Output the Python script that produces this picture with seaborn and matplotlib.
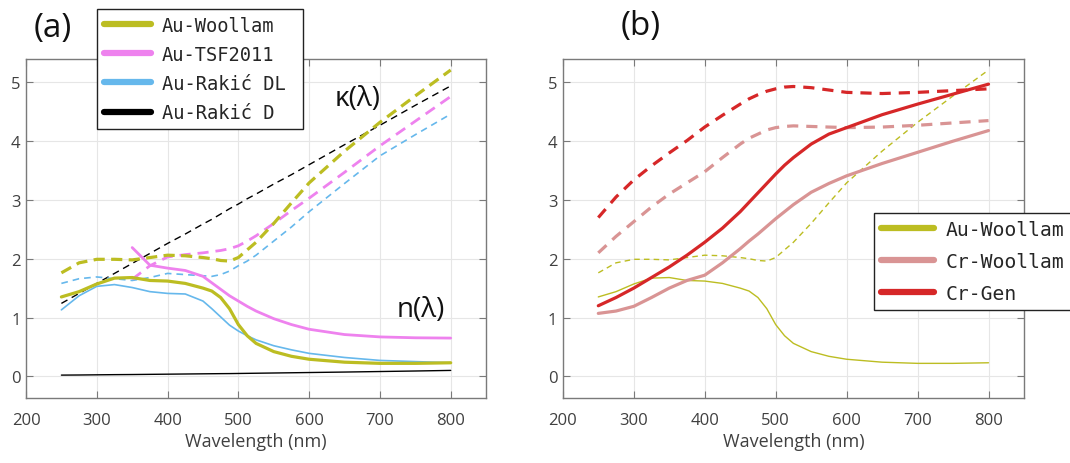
import seaborn as sns
import matplotlib.pyplot as plt
from matplotlib.lines import Line2D

# wavelength grid (nm)
wavelength = [250, 275, 300, 325, 350, 375, 400, 425, 450, 462.5, 475, 487.5, 500,
              512.5, 525, 550, 575, 600, 650, 700, 750, 800]
wavelength_tsf = wavelength[4:]

# Au-Woollam
au_woollam_n = [1.35, 1.44, 1.57, 1.67, 1.68, 1.63, 1.62, 1.58, 1.50, 1.45, 1.34, 1.15, 0.88,
                0.69, 0.56, 0.42, 0.34, 0.29, 0.24, 0.22, 0.22, 0.23]
au_woollam_k = [1.76, 1.93, 1.99, 1.99, 1.98, 2.02, 2.06, 2.05, 2.02, 2.00, 1.97, 1.96, 2.02,
                2.15, 2.28, 2.60, 2.95, 3.29, 3.83, 4.32, 4.77, 5.21]
# Au-TSF2011 (starts at 350 nm)
au_tsf_n = [2.19, 1.89, 1.84, 1.80, 1.70, 1.59, 1.48, 1.37, 1.28, 1.19, 1.11, 0.98, 0.88,
            0.80, 0.71, 0.67, 0.655, 0.65]
au_tsf_k = [1.65, 1.88, 2.03, 2.07, 2.10, 2.12, 2.14, 2.17, 2.22, 2.30, 2.39, 2.60, 2.82,
            3.03, 3.47, 3.92, 4.34, 4.76]
# Au-Rakic DL
au_rakic_dl_n = [1.13, 1.37, 1.53, 1.56, 1.51, 1.44, 1.41, 1.40, 1.28, 1.15, 1.01, 0.87, 0.77,
                 0.69, 0.62, 0.52, 0.45, 0.39, 0.32, 0.27, 0.25, 0.23]
au_rakic_dl_k = [1.58, 1.66, 1.69, 1.66, 1.63, 1.68, 1.75, 1.73, 1.71, 1.70, 1.73, 1.79, 1.88,
                 1.96, 2.06, 2.30, 2.54, 2.80, 3.28, 3.75, 4.11, 4.46]
# Au-Rakic D
au_rakic_d_n = [0.020, 0.022, 0.025, 0.028, 0.030, 0.033, 0.036, 0.039, 0.042, 0.0435, 0.045,
                0.046, 0.048, 0.050, 0.052, 0.056, 0.060, 0.064, 0.072, 0.081, 0.090, 0.100]
au_rakic_d_k = [1.24, 1.41, 1.58, 1.75, 1.92, 2.09, 2.26, 2.42, 2.59, 2.67, 2.76, 2.85, 2.93,
                3.02, 3.10, 3.27, 3.43, 3.60, 3.94, 4.27, 4.61, 4.94]
# Cr-Woollam
cr_woollam_n = [1.07, 1.11, 1.19, 1.34, 1.50, 1.63, 1.72, 1.93, 2.17, 2.30, 2.42, 2.55, 2.68,
                2.80, 2.92, 3.13, 3.28, 3.41, 3.62, 3.81, 4.00, 4.18]
cr_woollam_k = [2.10, 2.38, 2.63, 2.88, 3.10, 3.29, 3.48, 3.72, 3.95, 4.05, 4.12, 4.19, 4.23,
                4.25, 4.26, 4.25, 4.24, 4.23, 4.24, 4.27, 4.31, 4.35]
# Cr-Gen
cr_gen_n = [1.20, 1.34, 1.50, 1.68, 1.86, 2.06, 2.28, 2.52, 2.80, 2.96, 3.12, 3.28, 3.44,
            3.59, 3.72, 3.95, 4.12, 4.23, 4.45, 4.63, 4.80, 4.97]
cr_gen_k = [2.70, 3.05, 3.34, 3.58, 3.80, 4.01, 4.24, 4.44, 4.63, 4.72, 4.79, 4.85, 4.89,
            4.92, 4.93, 4.91, 4.87, 4.83, 4.81, 4.83, 4.86, 4.89]

OLIVE = "#bcbd22"
VIOLET = "#ee82ee"
SKY = "#66b8ec"
BLACK = "#000000"
CR_LIGHT = "#d99494"
CR_RED = "#d62728"

sns.set_theme(style="whitegrid", rc={"grid.color": "#e6e6e6", "grid.linewidth": 0.8,
                                     "axes.edgecolor": "#7a7a7a", "axes.linewidth": 1.0})
plt.rcParams["font.family"] = ["Open Sans", "DejaVu Sans"]

fig = plt.figure(figsize=(10.7, 4.64), dpi=100)
ax_a = fig.add_axes([0.0243, 0.140, 0.430, 0.731])
ax_b = fig.add_axes([0.526, 0.140, 0.431, 0.731])


def draw(ax, x, y, color, lw, dashed=False, dashes=None):
    sns.lineplot(x=x, y=y, ax=ax, color=color, linewidth=lw,
                 linestyle="--" if dashed else "-")
    if dashed and dashes is not None:
        ax.lines[-1].set_dashes(dashes)


# panel (a)
draw(ax_a, wavelength, au_rakic_d_n, BLACK, 1.0)
draw(ax_a, wavelength, au_rakic_d_k, BLACK, 1.0, True, (5, 3.5))
draw(ax_a, wavelength, au_rakic_dl_n, SKY, 1.2)
draw(ax_a, wavelength, au_rakic_dl_k, SKY, 1.2, True, (4, 3))
draw(ax_a, wavelength_tsf, au_tsf_n, VIOLET, 2.0)
draw(ax_a, wavelength_tsf, au_tsf_k, VIOLET, 2.0, True, (4, 2.5))
draw(ax_a, wavelength, au_woollam_n, OLIVE, 2.3)
draw(ax_a, wavelength, au_woollam_k, OLIVE, 2.3, True, (3.5, 2))

ax_a.text(669, 4.74, "κ(λ)", fontsize=20, ha="center", va="center", color="#111111")
ax_a.text(758, 1.14, "n(λ)", fontsize=20, ha="center", va="center", color="#111111")

# panel (b)
draw(ax_b, wavelength, au_woollam_n, OLIVE, 1.0)
draw(ax_b, wavelength, au_woollam_k, OLIVE, 1.0, True, (4, 3))
draw(ax_b, wavelength, cr_woollam_n, CR_LIGHT, 2.3)
draw(ax_b, wavelength, cr_woollam_k, CR_LIGHT, 2.3, True, (3.5, 2.5))
draw(ax_b, wavelength, cr_gen_n, CR_RED, 2.3)
draw(ax_b, wavelength, cr_gen_k, CR_RED, 2.3, True, (3.5, 2.5))

for ax in (ax_a, ax_b):
    ax.set_xlim(200, 850)
    ax.set_ylim(-0.37, 5.4)
    ax.set_xticks(range(200, 801, 100))
    ax.set_yticks(range(0, 6))
    ax.tick_params(direction="in", length=5, width=0.8, color="#7a7a7a",
                   top=True, right=True, bottom=True, left=True,
                   labelsize=12, labelcolor="#404040")
    ax.tick_params(axis="x", pad=10)
    ax.tick_params(axis="y", pad=4)
    ax.set_xlabel("Wavelength (nm)", fontsize=13, color="#404040", labelpad=3)
    ax.set_ylabel("")
    ax.grid(True)

# legend (a)
handles_a = [Line2D([], [], color=c, lw=4.5) for c in (OLIVE, VIOLET, SKY, BLACK)]
leg_a = ax_a.legend(handles_a, ["Au-Woollam", "Au-TSF2011", "Au-Rakić DL", "Au-Rakić D"],
                    prop={"family": "DejaVu Sans Mono", "size": 13.5}, loc="upper left",
                    bbox_to_anchor=(97 / 1070, 0.968, 206 / 1070, 0.01), mode="expand",
                    bbox_transform=fig.transFigure, borderaxespad=0, frameon=True,
                    fancybox=False, framealpha=1, edgecolor="#222222",
                    handlelength=2.55, handletextpad=0.55, labelspacing=0.54, borderpad=0.35)
leg_a.get_frame().set_linewidth(1.0)

# legend (b)
handles_b = [Line2D([], [], color=c, lw=4.5) for c in (OLIVE, CR_LIGHT, CR_RED)]
leg_b = ax_b.legend(handles_b, ["Au-Woollam", "Cr-Woollam", "Cr-Gen"],
                    prop={"family": "DejaVu Sans Mono", "size": 14.2}, loc="upper left",
                    bbox_to_anchor=(874 / 1070, 1 - 214 / 464),
                    bbox_transform=fig.transFigure, borderaxespad=0, frameon=True,
                    fancybox=False, framealpha=1, edgecolor="#222222",
                    handlelength=2.7, handletextpad=0.6, labelspacing=0.66, borderpad=0.35)
leg_b.get_frame().set_linewidth(1.0)

fig.text(53 / 1070, 1 - 28 / 464, "(a)", fontsize=24, ha="center", va="center", color="#111111")
fig.text(641 / 1070, 1 - 26 / 464, "(b)", fontsize=24, ha="center", va="center", color="#111111")

fig.savefig("out.png", dpi=100)
